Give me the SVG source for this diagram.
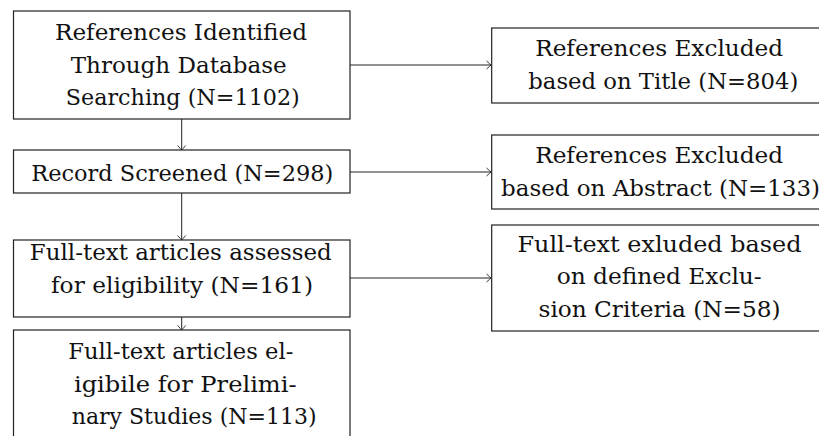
<svg xmlns="http://www.w3.org/2000/svg" width="819" height="436" viewBox="0 0 819 436">
<style>
.box{fill:#fff;stroke:#222;stroke-width:1.2}
.t{font-family:"DejaVu Serif","Liberation Serif",serif;font-size:22.5px;fill:#111;text-anchor:middle}
.c{fill:none;stroke:#222;stroke-width:1}
</style>
<defs>
<marker id="ah" viewBox="-6 -5 8 10" markerWidth="8" markerHeight="10" refX="0" refY="0" orient="auto" markerUnits="userSpaceOnUse">
<path d="M-4.5,-4 Q-1,-1 0,0 Q-1,1 -4.5,4" fill="none" stroke="#222" stroke-width="0.9"/>
</marker>
</defs>
<rect width="819" height="436" fill="#fff"/>
<g id="connectors">
<line class="c" x1="181.7" y1="119" x2="181.7" y2="150" marker-end="url(#ah)"/>
<line class="c" x1="181.7" y1="193" x2="181.7" y2="240" marker-end="url(#ah)"/>
<line class="c" x1="181.7" y1="317" x2="181.7" y2="330" marker-end="url(#ah)"/>
<line class="c" x1="350" y1="65" x2="491" y2="65" marker-end="url(#ah)"/>
<line class="c" x1="350" y1="172" x2="491" y2="172" marker-end="url(#ah)"/>
<line class="c" x1="350" y1="278" x2="491" y2="278" marker-end="url(#ah)"/>
</g>
<g id="n1">
<rect class="box" x="13.5" y="11" width="336.5" height="108"/>
<text class="t" x="181" y="39.5" textLength="252" lengthAdjust="spacingAndGlyphs">References Identified</text>
<text class="t" x="178.7" y="72.5" textLength="216" lengthAdjust="spacingAndGlyphs">Through Database</text>
<text class="t" x="182.8" y="105" textLength="234" lengthAdjust="spacingAndGlyphs">Searching (N=1102)</text>
</g>
<g id="n2">
<rect class="box" x="13.5" y="150" width="336.5" height="43"/>
<text class="t" x="182.3" y="181" textLength="302" lengthAdjust="spacingAndGlyphs">Record Screened (N=298)</text>
</g>
<g id="n3">
<rect class="box" x="13.5" y="240" width="336.5" height="77"/>
<text class="t" x="180.8" y="259.5" textLength="302" lengthAdjust="spacingAndGlyphs">Full-text articles assessed</text>
<text class="t" x="182" y="292.5" textLength="262" lengthAdjust="spacingAndGlyphs">for eligibility (N=161)</text>
</g>
<g id="n4">
<rect class="box" x="13.5" y="330" width="336.5" height="120"/>
<text class="t" x="180.8" y="358.5" textLength="225" lengthAdjust="spacingAndGlyphs">Full-text articles el-</text>
<text class="t" x="185.3" y="391.5" textLength="222.7" lengthAdjust="spacingAndGlyphs">igibile for Prelimi-</text>
<text class="t" x="194.2" y="424" textLength="245" lengthAdjust="spacingAndGlyphs">nary Studies (N=113)</text>
</g>
<g id="n5">
<rect class="box" x="491.7" y="28" width="336" height="75"/>
<text class="t" x="659.2" y="56" textLength="248" lengthAdjust="spacingAndGlyphs">References Excluded</text>
<text class="t" x="663.3" y="89" textLength="270" lengthAdjust="spacingAndGlyphs">based on Title (N=804)</text>
</g>
<g id="n6">
<rect class="box" x="491.7" y="135" width="336" height="74"/>
<text class="t" x="659.2" y="162.7" textLength="248" lengthAdjust="spacingAndGlyphs">References Excluded</text>
<text class="t" x="660.5" y="196" textLength="319" lengthAdjust="spacingAndGlyphs">based on Abstract (N=133)</text>
</g>
<g id="n7">
<rect class="box" x="491.7" y="225" width="336" height="106"/>
<text class="t" x="659.5" y="251.7" textLength="284" lengthAdjust="spacingAndGlyphs">Full-text exluded based</text>
<text class="t" x="659.2" y="284" textLength="205" lengthAdjust="spacingAndGlyphs">on defined Exclu-</text>
<text class="t" x="659.5" y="317.3" textLength="242" lengthAdjust="spacingAndGlyphs">sion Criteria (N=58)</text>
</g>
</svg>
